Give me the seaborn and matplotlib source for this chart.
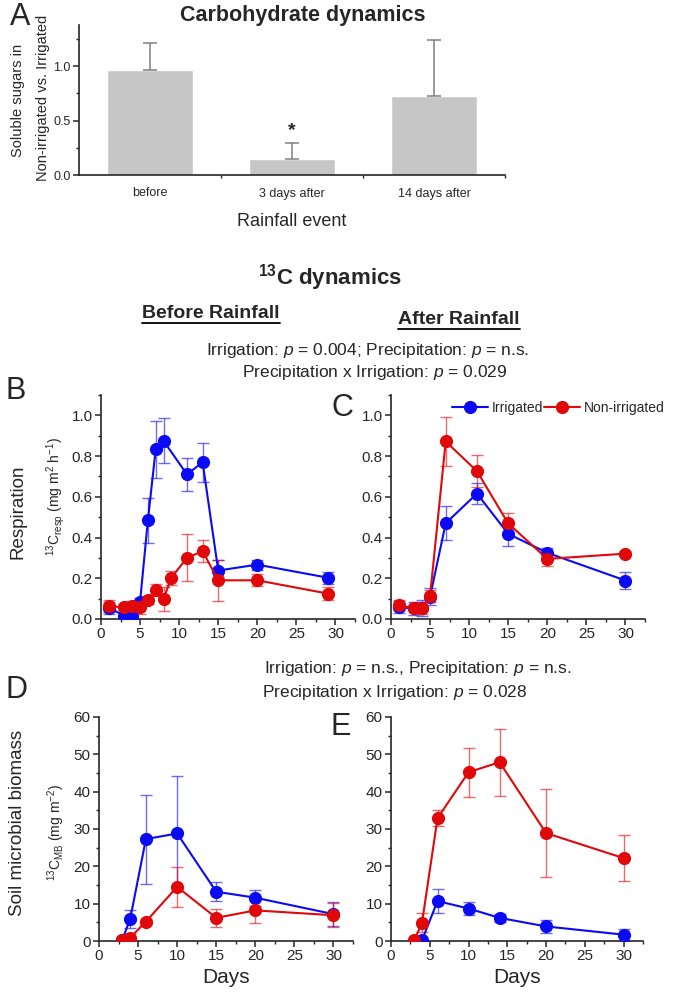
import numpy as np
import pandas as pd
import matplotlib
matplotlib.use("Agg")
import matplotlib.pyplot as plt
import seaborn as sns
from matplotlib.lines import Line2D
from matplotlib.ticker import MultipleLocator, FixedLocator

# ---------------------------------------------------------------------------
# Datos
# ---------------------------------------------------------------------------
sugar_cats = ["before", "3 days after", "14 days after"]
sugar_ratio = [0.97, 0.15, 0.73]
sugar_err = [0.24, 0.14, 0.51]

resp_before_irr_days = [1, 3, 4, 5, 6, 7, 8, 11, 13, 15, 20, 29]
resp_before_irr = [0.055, 0.016, 0.016, 0.085, 0.485, 0.833, 0.875, 0.71, 0.77, 0.238, 0.267, 0.203]
resp_before_irr_err = [0.03, 0.02, 0.02, 0.02, 0.11, 0.14, 0.11, 0.08, 0.095, 0.05, 0.025, 0.03]
resp_before_non_days = [1, 3, 4, 5, 6, 7, 8, 9, 11, 13, 15, 20, 29]
resp_before_non = [0.062, 0.058, 0.066, 0.06, 0.093, 0.144, 0.098, 0.203, 0.3, 0.333, 0.19, 0.19, 0.125]
resp_before_non_err = [0.03, 0.015, 0.02, 0.035, 0.02, 0.028, 0.06, 0.035, 0.115, 0.055, 0.1, 0.03, 0.03]

resp_after_days = [1, 3, 4, 5, 7, 11, 15, 20, 30]
resp_after_irr = [0.058, 0.052, 0.055, 0.11, 0.47, 0.616, 0.418, 0.325, 0.189]
resp_after_irr_err = [0.03, 0.03, 0.04, 0.04, 0.083, 0.05, 0.06, 0.025, 0.043]
resp_after_non = [0.067, 0.052, 0.054, 0.113, 0.872, 0.726, 0.469, 0.295, 0.321]
resp_after_non_err = [0.025, 0.02, 0.03, 0.03, 0.12, 0.08, 0.05, 0.035, 0.012]

mb_before_days = [3, 4, 6, 10, 15, 20, 30]
mb_before_irr = [0.4, 6.0, 27.3, 28.8, 13.2, 11.6, 7.2]
mb_before_irr_err = [0.5, 2.4, 11.9, 15.3, 2.6, 2.1, 3.2]
mb_before_non = [0.2, 0.9, 5.2, 14.5, 6.2, 8.2, 6.9]
mb_before_non_err = [0.2, 1.0, 0.7, 5.4, 2.5, 3.3, 3.2]

mb_after_days = [3, 4, 6, 10, 14, 20, 30]
mb_after_irr = [0.0, 0.2, 10.7, 8.7, 6.2, 3.9, 1.7]
mb_after_irr_err = [0.2, 0.3, 3.2, 1.7, 1.0, 1.7, 1.6]
mb_after_non = [0.2, 4.9, 32.9, 45.2, 47.9, 28.9, 22.2]
mb_after_non_err = [0.2, 2.5, 2.1, 6.5, 9.0, 11.8, 6.1]

BLUE = "#0a0af5"
RED = "#e00808"
W, H = 677, 996

sns.set_style("ticks")
plt.rcParams["font.family"] = ["Liberation Sans", "DejaVu Sans"]
plt.rcParams["mathtext.fontset"] = "custom"
plt.rcParams["mathtext.rm"] = "Liberation Sans"
plt.rcParams["mathtext.it"] = "Liberation Sans:italic"
plt.rcParams["mathtext.bf"] = "Liberation Sans:bold"

fig = plt.figure(figsize=(W / 100, H / 100), dpi=100)


def px_axes(x0, y0, x1, y1):
    return fig.add_axes([x0 / W, 1 - y1 / H, (x1 - x0) / W, (y1 - y0) / H])


def ftext(x, y, s, **kw):
    return fig.text(x / W, 1 - y / H, s, ha="center", va="center", **kw)


def style_axes(ax, size):
    sns.despine(ax=ax)
    for sp in ["left", "bottom"]:
        ax.spines[sp].set_linewidth(1.2)
    ax.tick_params(which="major", direction="out", length=4, width=1.1, labelsize=size, pad=2)
    ax.tick_params(which="minor", direction="out", length=2.5, width=1.0)


def draw_series(ax, days, vals, errs, color):
    ax.errorbar(days, vals, yerr=errs, fmt="none", ecolor=color, elinewidth=1.0,
                capsize=4.5, capthick=1.0, alpha=0.6, zorder=3)
    df = pd.DataFrame({"day": days, "value": vals})
    sns.lineplot(data=df, x="day", y="value", color=color, marker="o", markersize=9.5,
                 markeredgewidth=0, linewidth=1.5, ax=ax, zorder=4, legend=False)


# ---------------------------------------------------------------------------
# A. Carbohidratos
# ---------------------------------------------------------------------------
axA = px_axes(79, 25, 505, 175)
sns.barplot(x=sugar_cats, y=sugar_ratio, color="#c6c6c6", width=0.6, saturation=1,
            errorbar=None, ax=axA)
axA.errorbar(range(3), sugar_ratio, yerr=[np.zeros(3), sugar_err], fmt="none",
             ecolor="#808080", elinewidth=1.1, capsize=5, capthick=1.1)
axA.set_xlim(-0.5, 2.5)
axA.set_ylim(0, 1.38)
axA.yaxis.set_major_locator(MultipleLocator(0.5))
axA.yaxis.set_minor_locator(MultipleLocator(0.25))
axA.xaxis.set_minor_locator(FixedLocator([0.5, 1.0, 1.5, 2.5]))
style_axes(axA, 9)
axA.tick_params(axis="x", which="major", length=0, pad=9)
axA.set_xlabel("")
axA.set_ylabel("")
axA.text(1, 0.33, "*", ha="center", va="bottom", fontsize=14, fontweight="bold")

ftext(20, 17, "A", fontsize=22)
ftext(303, 16, "Carbohydrate dynamics", fontsize=15.5, fontweight="bold")
ftext(18, 100, "Soluble sugars in", fontsize=10.5, rotation=90)
ftext(43, 98, "Non-irrigated vs. Irrigated", fontsize=10.5, rotation=90)
ftext(292, 222, "Rainfall event", fontsize=13)

# ---------------------------------------------------------------------------
# Titulos centrales
# ---------------------------------------------------------------------------
ftext(330, 278, r"$^{\mathbf{13}}$C dynamics", fontsize=16, fontweight="bold")
t_before = ftext(211, 313, "Before Rainfall", fontsize=14, fontweight="bold")
t_after = ftext(459, 320, "After Rainfall", fontsize=14, fontweight="bold")
ftext(367, 350, r"Irrigation: $p$ = 0.004; Precipitation: $p$ = n.s.", fontsize=12.5)
ftext(375, 373, r"Precipitation x Irrigation: $p$ = 0.029", fontsize=12.5)
ftext(418, 668, r"Irrigation: $p$ = n.s., Precipitation: $p$ = n.s.", fontsize=12.5)
ftext(395, 692, r"Precipitation x Irrigation: $p$ = 0.028", fontsize=12.5)

# ---------------------------------------------------------------------------
# B, C. Respiracion
# ---------------------------------------------------------------------------
axB = px_axes(101, 395, 355, 619)
draw_series(axB, resp_before_irr_days, resp_before_irr, resp_before_irr_err, BLUE)
draw_series(axB, resp_before_non_days, resp_before_non, resp_before_non_err, RED)

axC = px_axes(391, 395, 645, 619)
draw_series(axC, resp_after_days, resp_after_irr, resp_after_irr_err, BLUE)
draw_series(axC, resp_after_days, resp_after_non, resp_after_non_err, RED)

for ax in (axB, axC):
    ax.set_xlim(0, 32.5)
    ax.set_ylim(0, 1.1)
    ax.xaxis.set_major_locator(MultipleLocator(5))
    ax.xaxis.set_minor_locator(MultipleLocator(2.5))
    ax.yaxis.set_major_locator(MultipleLocator(0.2))
    ax.yaxis.set_minor_locator(MultipleLocator(0.1))
    ax.set_xlabel("")
    ax.set_ylabel("")
    style_axes(ax, 11)

ftext(16, 391, "B", fontsize=22)
ftext(342, 408, "C", fontsize=22)
ftext(18, 512, "Respiration", fontsize=13.5, rotation=90)
ftext(56, 497, r"$^{13}$C$_{\mathrm{resp}}$ (mg m$^2$ h$^{-1}$)", fontsize=10, rotation=90)

handles = [
    Line2D([], [], color=BLUE, marker="o", markersize=9.5, markeredgewidth=0, linewidth=1.5),
    Line2D([], [], color=RED, marker="o", markersize=9.5, markeredgewidth=0, linewidth=1.5),
]
fig.legend(handles, ["Irrigated", "Non-irrigated"], loc="center left",
           bbox_to_anchor=(452 / W, 1 - 408 / H), ncol=2, frameon=False, fontsize=10,
           handlelength=2.6, handletextpad=0.25, columnspacing=0.1, borderpad=0,
           borderaxespad=0)

# ---------------------------------------------------------------------------
# D, E. Biomasa microbiana
# ---------------------------------------------------------------------------
axD = px_axes(99, 717, 353, 941)
draw_series(axD, mb_before_days, mb_before_irr, mb_before_irr_err, BLUE)
draw_series(axD, mb_before_days, mb_before_non, mb_before_non_err, RED)

axE = px_axes(391, 717, 643, 941)
draw_series(axE, mb_after_days, mb_after_irr, mb_after_irr_err, BLUE)
draw_series(axE, mb_after_days, mb_after_non, mb_after_non_err, RED)

for ax in (axD, axE):
    ax.set_xlim(0, 32.5)
    ax.set_ylim(0, 60)
    ax.xaxis.set_major_locator(MultipleLocator(5))
    ax.xaxis.set_minor_locator(MultipleLocator(2.5))
    ax.yaxis.set_major_locator(MultipleLocator(10))
    ax.yaxis.set_minor_locator(MultipleLocator(5))
    ax.set_xlabel("Days", fontsize=15, labelpad=3)
    ax.set_ylabel("")
    style_axes(ax, 11)

ftext(16, 690, "D", fontsize=22)
ftext(341, 727, "E", fontsize=22)
ftext(18, 823, "Soil microbial biomass", fontsize=13.5, rotation=90)
ftext(56, 832, r"$^{13}$C$_{\mathrm{MB}}$ (mg m$^{-2}$)", fontsize=10, rotation=90)

# subrayado de los titulos
fig.canvas.draw()
inv = fig.transFigure.inverted()
for t in (t_before, t_after):
    bb = t.get_window_extent()
    (x0, y0), (x1, _) = inv.transform([(bb.x0, bb.y0 - 1), (bb.x1, bb.y0)])
    fig.add_artist(Line2D([x0, x1], [y0, y0], color="black", linewidth=1.3,
                          transform=fig.transFigure))

fig.savefig("out.png", dpi=100)
